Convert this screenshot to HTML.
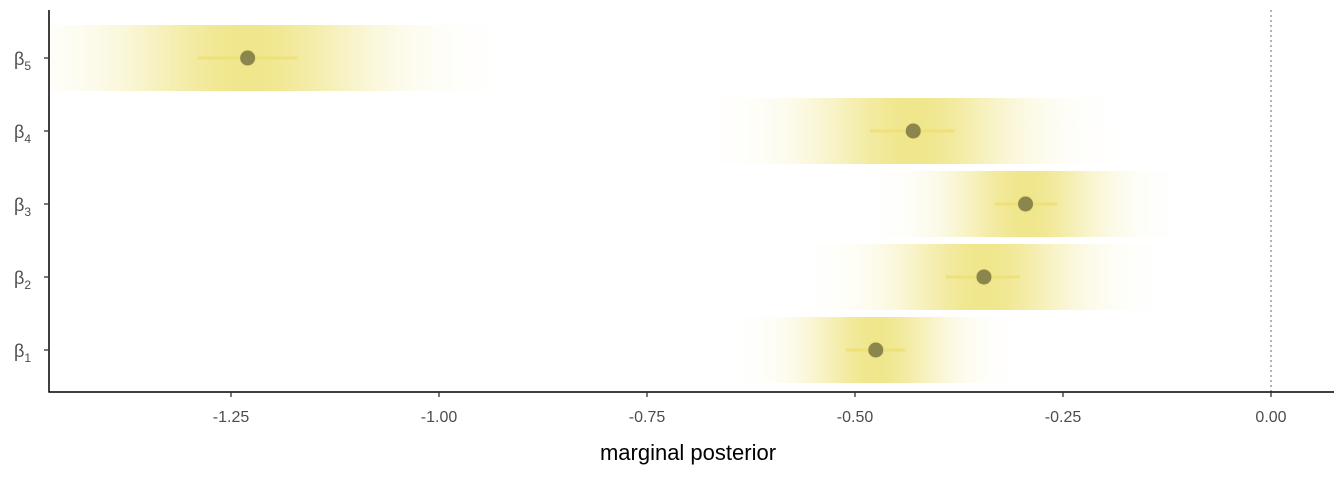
<!DOCTYPE html>
<html><head><meta charset="utf-8"><style>
html,body{margin:0;padding:0;background:#fff;}
svg{display:block;font-family:"Liberation Sans",sans-serif;}
</style></head><body>
<svg id="chart" width="1344" height="480">
<defs><clipPath id="clip"><rect x="50" y="0" width="1290" height="392"/></clipPath></defs>
<g id="bands" clip-path="url(#clip)"></g>
<line x1="1271" y1="10" x2="1271" y2="392" stroke="#888" stroke-width="1.3" stroke-dasharray="2,3"/>
<g id="marks"></g>
<line x1="49" y1="10" x2="49" y2="392.5" stroke="#000" stroke-width="1.5"/>
<line x1="48.5" y1="392" x2="1334" y2="392" stroke="#000" stroke-width="1.5"/>
<g id="axes"></g>
<text x="688" y="460" text-anchor="middle" font-size="22" fill="#000">marginal posterior</text>
</svg>
<script>
const params = ["1","2","3","4","5"];
const means = [-0.475, -0.345, -0.295, -0.43, -1.23];
const lower = [-0.511, -0.391, -0.332, -0.482, -1.29];
const upper = [-0.44, -0.302, -0.257, -0.38, -1.17];
const sds = [0.055, 0.07, 0.06, 0.08, 0.1];
const xTicks = [-1.25, -1.00, -0.75, -0.50, -0.25, 0.00];
const xTickLabels = ["-1.25","-1.00","-0.75","-0.50","-0.25","0.00"];

const NS="http://www.w3.org/2000/svg";
const X = v => 1271 + v*832;
const Y = i => 350 - i*73;
const svg=document.getElementById('chart');
const defs=svg.querySelector('defs');
const bands=document.getElementById('bands');
const marks=document.getElementById('marks');
const axes=document.getElementById('axes');
function mk(t,a,p){const e=document.createElementNS(NS,t);for(const k in a)e.setAttribute(k,a[k]);(p||svg).appendChild(e);return e;}

params.forEach((p,i)=>{
  const m=means[i], s=sds[i], y=Y(i);
  const g=mk('linearGradient',{id:'g'+i,gradientUnits:'userSpaceOnUse',x1:X(m-3*s),x2:X(m+3*s),y1:0,y2:0},defs);
  for(let k=0;k<=24;k++){const z=-3+k*0.25;mk('stop',{offset:(k/24),'stop-color':'#F0E68C','stop-opacity':Math.exp(-z*z/2).toFixed(3)},g);}
  const r=mk('rect',{x:X(m-3*s),y:y-33,width:X(m+3*s)-X(m-3*s),height:66,fill:'url(#g'+i+')'},bands);
  
  
  const l=mk('line',{x1:X(lower[i]),x2:X(upper[i]),y1:y,y2:y,stroke:'#EEE17A','stroke-width':3},marks);
  
  
  const c=mk('circle',{cx:X(m),cy:y,r:8,fill:'#8B864E',stroke:'#EEE17A','stroke-width':1},marks);
  
  
  mk('line',{x1:44,x2:49,y1:y,y2:y,stroke:'#333','stroke-width':1.3},axes);
  const t=mk('text',{x:14,y:y+7,'font-size':18,fill:'#4d4d4d'},axes);
  
  
  t.textContent='β';
  const ts=mk('tspan',{'font-size':12,dy:5},t);ts.textContent=p;
});
xTicks.forEach((v,i)=>{
  mk('line',{x1:X(v),x2:X(v),y1:392,y2:397,stroke:'#333','stroke-width':1.3},axes);
  const t=mk('text',{x:X(v),y:422,'text-anchor':'middle','font-size':16,fill:'#4d4d4d'},axes);
  
  
  t.textContent=xTickLabels[i];
});
</script>
</body></html>
